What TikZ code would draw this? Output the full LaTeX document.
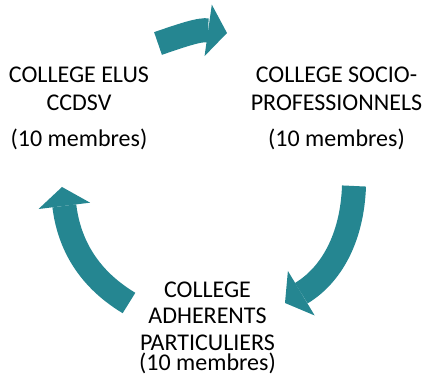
\documentclass[tikz,border=0pt]{standalone}
\usepackage{fontspec}
\setmainfont{Carlito}
\usetikzlibrary{arrows.meta}
\definecolor{cycteal}{RGB}{37,134,145}
\tikzset{
  cycarrow/.style={draw=cycteal,line width=24pt,line cap=butt,
    -{Triangle[length=19pt,width=52pt,line width=0pt]}},
  colbox/.style={inner sep=0pt,anchor=north,align=center,text=black,
    font=\fontsize{24}{27.6}\selectfont}
}
\begin{document}
\begin{tikzpicture}[x=1pt,y=1pt]
		\useasboundingbox (0,0) rectangle (424,377);
		% les trois colleges
		\node[colbox] (elus) at (79,310) {COLLEGE ELUS\\CCDSV\\[9pt](10 membres)};
		\node[colbox] (socio) at (336.5,310) {COLLEGE SOCIO-\\PROFESSIONNELS\\[9pt](10 membres)};
		\node[colbox,font=\fontsize{24}{26.6}\selectfont] (adh) at (207.5,95.5) {COLLEGE\\ADHERENTS\\PARTICULIERS\\[-6.6pt](10 membres)};
		% fleches du cycle
		\coordinate (t1) at (158,333.5);
		\coordinate (t2) at (227,344);
		\coordinate (r1) at (354,191);
		\coordinate (r2) at (285,74);
		\coordinate (l1) at (129,74);
		\coordinate (l2) at (62,190);
		\draw[cycarrow] (t1) to[out=19,in=172] (t2);
		\draw[cycarrow] (r1) to[out=-92,in=31] (r2);
		\draw[cycarrow] (l1) to[out=149,in=-83] (l2);
	\end{tikzpicture}
\end{document}
